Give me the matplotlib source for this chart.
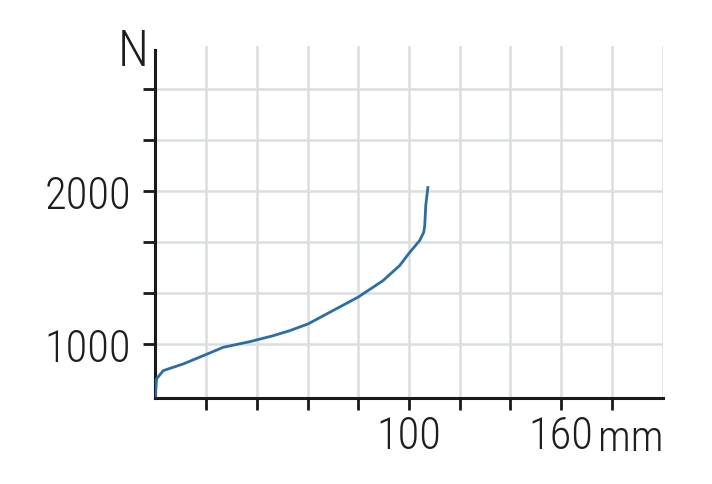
import matplotlib
matplotlib.use("Agg")
import matplotlib.pyplot as plt
import matplotlib.transforms as mtransforms

# Kurve (Weg in mm, Kraft in N)
weg_mm = [0.0, 0.5, 3.1, 11.0, 19.6, 26.8, 37.3, 46.5, 53.0, 60.2, 67.5,
          79.9, 89.8, 96.3, 100.3, 104.2, 105.8, 106.2, 106.6, 107.5]
kraft_n = [650, 771, 825, 869, 928, 978, 1015, 1054, 1087, 1131, 1196,
           1306, 1415, 1513, 1600, 1677, 1731, 1775, 1906, 2033]

x_ticks = [20, 40, 60, 80, 100, 120, 140, 160, 180]
x_labels = {100: "100", 160: "160"}
y_ticks = [1000, 1333.3, 1666.7, 2000, 2333.3, 2666.7]
y_labels = {1000: "1000", 2000: "2000"}

plt.rcParams["font.family"] = ["Roboto Condensed", "DejaVu Sans"]
plt.rcParams["font.stretch"] = "condensed"
plt.rcParams["font.weight"] = 300
textfarbe = "#1e1e1e"
achsfarbe = "#1a1a1a"
gitterfarbe = "#dadee1"
linienfarbe = "#2b6ea6"

fig = plt.figure(figsize=(7.12, 4.85), dpi=100)
ax = fig.add_axes([155.3 / 712, (485 - 399.3) / 485, (662.7 - 155.3) / 712, (399.3 - 47) / 485])

ax.set_xlim(0, 200)
ax.set_ylim(644, 2951)

# Gitter
for xv in x_ticks + [200]:
    ax.axvline(xv, color=gitterfarbe, lw=1.8, zorder=0)
for yv in y_ticks:
    ax.axhline(yv, color=gitterfarbe, lw=1.8, zorder=0)

ax.plot(weg_mm, kraft_n, color=linienfarbe, lw=2.0, zorder=3,
        solid_joinstyle="round", solid_capstyle="butt")

for s in ["top", "right"]:
    ax.spines[s].set_visible(False)
for s in ["left", "bottom"]:
    ax.spines[s].set_color(achsfarbe)
    ax.spines[s].set_linewidth(2.2)
ax.spines["left"].set_bounds(644, 2925)

ax.set_xticks(x_ticks)
ax.set_xticklabels([x_labels.get(t, "") for t in x_ticks])
ax.set_yticks(y_ticks)
ax.set_yticklabels([y_labels.get(round(t), "") for t in y_ticks])
ax.tick_params(axis="both", direction="out", length=8.5, width=2.0, color=achsfarbe,
               labelsize=32, labelcolor=textfarbe)
ax.tick_params(axis="x", pad=3)
ax.tick_params(axis="y", pad=9)

ax.text(-0.044, 0.985, "N", transform=ax.transAxes, ha="center", va="center",
        fontsize=36, color=textfarbe)
trans = mtransforms.blended_transform_factory(ax.transData, ax.transAxes)
ax.text(200.5, -0.056, "mm", transform=trans, ha="right", va="top",
        fontsize=31, color=textfarbe)

fig.savefig("out.png", dpi=100)
